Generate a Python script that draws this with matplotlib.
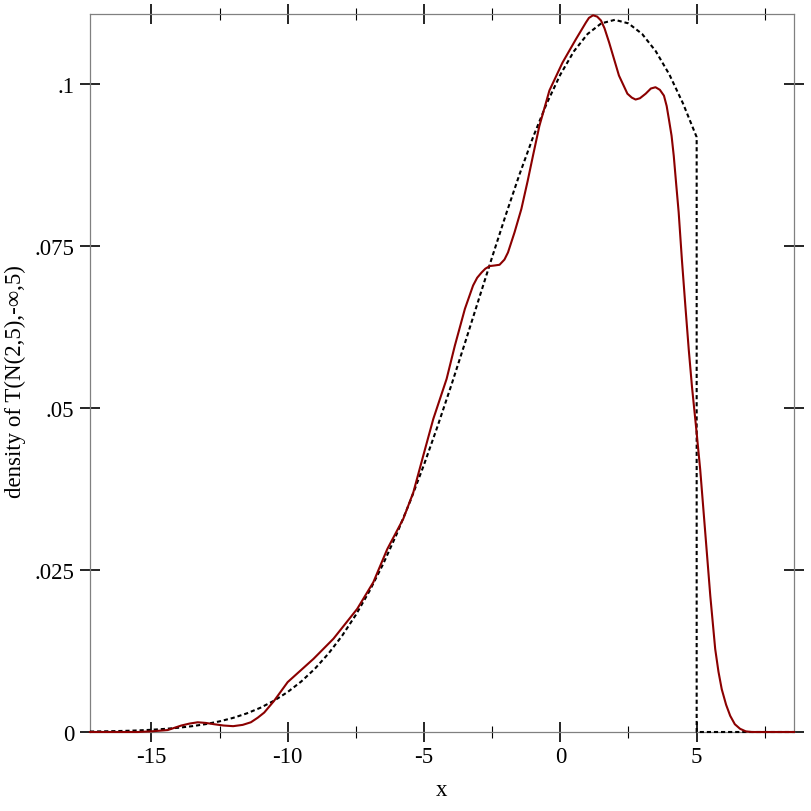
import matplotlib
matplotlib.use("Agg")
import matplotlib.pyplot as plt
from matplotlib.ticker import FixedLocator

# sample density (kde)
kde_x = [-17.25, -15.5, -15.0, -14.4, -13.9, -13.6, -13.3, -13.0, -12.7, -12.35,
         -12.0, -11.65, -11.35, -11.1, -10.86, -10.5, -10.0, -9.05, -8.32, -7.45,
         -6.86, -6.35, -5.76, -5.39, -5.03, -4.66, -4.17, -3.87, -3.50, -3.20,
         -3.05, -2.89, -2.75, -2.59, -2.40, -2.23, -2.05, -1.92, -1.68, -1.43,
         -1.20, -1.00, -0.77, -0.40, 0.08, 0.57, 0.94, 1.05, 1.20, 1.35,
         1.49, 1.62, 1.79, 2.15, 2.46, 2.62, 2.76, 2.92, 3.13, 3.32,
         3.49, 3.65, 3.80, 3.90, 3.98, 4.08, 4.16, 4.25, 4.34, 4.46,
         4.59, 4.71, 4.83, 4.98, 5.13, 5.32, 5.50, 5.68, 5.80, 5.92,
         6.08, 6.23, 6.40, 6.59, 6.80, 7.02, 8.57]
kde_y = [0, 0, 0.0001, 0.0003, 0.0010, 0.0013, 0.0015, 0.0014, 0.0012, 0.0010,
         0.0009, 0.0011, 0.0015, 0.0022, 0.0030, 0.0048, 0.0077, 0.0113, 0.0144, 0.0190,
         0.0231, 0.0282, 0.0329, 0.0370, 0.0426, 0.0483, 0.0545, 0.0596, 0.0653, 0.0689,
         0.0701, 0.0709, 0.0715, 0.0719, 0.0720, 0.0721, 0.0729, 0.0740, 0.0771, 0.0807,
         0.0850, 0.0890, 0.0935, 0.0990, 0.1033, 0.1069, 0.1095, 0.1102, 0.1106, 0.1104,
         0.1098, 0.1086, 0.1064, 0.1013, 0.0985, 0.0979, 0.0976, 0.0978, 0.0985, 0.0993,
         0.0995, 0.0991, 0.0982, 0.0966, 0.0946, 0.0920, 0.0889, 0.0845, 0.0802, 0.0728,
         0.0655, 0.0590, 0.0532, 0.0470, 0.0405, 0.0305, 0.0210, 0.0128, 0.0093, 0.0066,
         0.0042, 0.0025, 0.0012, 0.0005, 0.0001, 0, 0]

# true density of the truncated normal (dashed)
true_x = [-17.25, -16.5, -16, -15.5, -15, -14.5, -14, -13.5, -13, -12.5, -12, -11.5,
          -11, -10.5, -10, -9.5, -9, -8.5, -8, -7.5, -7, -6.5, -6, -5.5, -5,
          -4.5, -4, -3.5, -3, -2.5, -2, -1.5, -1, -0.5, 0, 0.5, 1, 1.5, 2,
          2.5, 3, 3.5, 4, 4.5, 5, 5, 8.57]
true_y = [0.00007, 0.00012, 0.00017, 0.00024, 0.00034, 0.00048, 0.00066, 0.00090,
          0.00122, 0.00164, 0.00218, 0.00287, 0.00374, 0.00483, 0.00617, 0.00780,
          0.00977, 0.01212, 0.01487, 0.01808, 0.02175, 0.02591, 0.03056, 0.03568,
          0.04125, 0.04721, 0.05349, 0.06001, 0.06666, 0.07330, 0.07980, 0.08602,
          0.09180, 0.09699, 0.10145, 0.10506, 0.10772, 0.10935, 0.1099, 0.10935,
          0.10772, 0.10506, 0.10145, 0.09699, 0.09180, 0, 0]

x_major = [-15, -10, -5, 0, 5]
x_minor = [-12.5, -7.5, -2.5, 2.5, 7.5]
y_major = [0, 0.025, 0.05, 0.075, 0.1]
y_labels = ["0", ".025", ".05", ".075", ".1"]

plt.rcParams["font.family"] = ["Liberation Serif", "DejaVu Serif"]
fs = 16.5

fig = plt.figure(figsize=(8.12, 8.12), dpi=100)
ax = fig.add_axes([90/812, 1 - 733/812, 704/812, 718/812])

ax.plot(true_x, true_y, color="black", lw=1.5, dashes=(2, 1.4), zorder=3, clip_on=False)
ax.plot(kde_x, kde_y, color="#8b0000", lw=1.5, zorder=4, clip_on=False)

ax.set_xlim(-17.25, 8.57)
ax.set_ylim(0, 0.1108)

for s in ax.spines.values():
    s.set_color("#808080")
    s.set_linewidth(0.9)

ax.xaxis.set_major_locator(FixedLocator(x_major))
ax.xaxis.set_minor_locator(FixedLocator(x_minor))
ax.set_xticklabels([str(v) for v in x_major])
ax.set_yticks(y_major)
ax.set_yticklabels(y_labels)

ax.tick_params(which="major", direction="inout", length=14.4, width=1.2,
               color="black", labelsize=fs, pad=3,
               top=True, right=True, labeltop=False, labelright=False)
ax.tick_params(which="minor", direction="inout", length=8, width=0.8,
               color="black", top=True, right=True)
ax.tick_params(axis="y", which="major", pad=4.3)

ax.set_xlabel("x", fontsize=fs, va="center")
ax.xaxis.set_label_coords(0.5, (733 - 791) / 718)
ax.set_ylabel("density of T(N(2,5),-\u221e,5)", fontsize=fs, va="center")
ax.yaxis.set_label_coords((15 - 90) / 704, 0.49)

fig.savefig("out.png", dpi=100)
